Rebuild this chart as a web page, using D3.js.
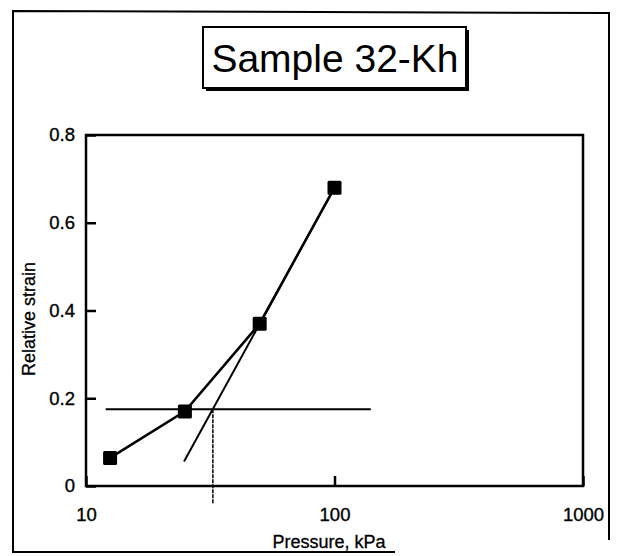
<!DOCTYPE html>
<html>
<head>
<meta charset="utf-8">
<script src="https://cdn.jsdelivr.net/npm/d3@7"></script>
<style>
  body { margin: 0; background: #fff; }
  text { font-family: "Liberation Sans", Arial, sans-serif; fill: #000; }
  .axis path, .axis line { stroke: #000; stroke-width: 2.5; }
  .axis text { font-size: 18.5px; stroke: #000; stroke-width: 0.35; }
</style>
</head>
<body>
<svg></svg>
<script>
// measured points
var pressure = [12.5, 25, 50, 100];
var strain = [0.064, 0.17, 0.37, 0.68];

// construction lines
var tangentP = [24.8, 100];
var tangentS = [0.056, 0.68];
var levelP = [12, 140];
var levelS = [0.175, 0.175];
var markP = [32.4, 32.4];
var markS = [0.175, -0.04];

var xTicks = [10, 100, 1000];
var yTicks = [0, 0.2, 0.4, 0.6, 0.8];

var svgWidth = 618, svgHeight = 556;
var margin = { top: 135, right: 35, bottom: 70, left: 86 };
var width = svgWidth - margin.left - margin.right;
var height = svgHeight - margin.top - margin.bottom;

var svg = d3.select("svg")
  .attr("width", svgWidth)
  .attr("height", svgHeight);

// outer frame
svg.append("path")
  .attr("d", "M395,552 L13,552 L13,11 L609,13 L609,540")
  .attr("fill", "none")
  .attr("stroke", "#000")
  .attr("stroke-width", 2);

// title box with shadow
svg.append("rect")
  .attr("x", 206).attr("y", 30).attr("width", 263).attr("height", 61)
  .attr("fill", "#000");
svg.append("rect")
  .attr("x", 203).attr("y", 27).attr("width", 263).attr("height", 61)
  .attr("fill", "#fff").attr("stroke", "#000").attr("stroke-width", 2);
svg.append("text")
  .attr("x", 335).attr("y", 72)
  .attr("text-anchor", "middle")
  .style("font-size", "39px")
  .text("Sample 32-Kh");

var chart = svg.append("g")
  .attr("transform", `translate(${margin.left}, ${margin.top})`);

var x = d3.scaleLog().domain([10, 1000]).range([0, width]);
var y = d3.scaleLinear().domain([0, 0.8]).range([height, 0]);

// axes, ticks pointing inward
chart.append("g")
  .attr("class", "axis")
  .attr("transform", "translate(0," + height + ")")
  .call(d3.axisBottom(x).tickValues(xTicks).tickSize(-10).tickPadding(22)
    .tickFormat(d3.format("d")));

chart.append("g")
  .attr("class", "axis")
  .call(d3.axisLeft(y).tickValues(yTicks).tickSize(-10).tickPadding(11)
    .tickFormat(function(d) { return d === 0 ? "0" : d3.format(".1f")(d); }));

chart.selectAll(".axis .domain").remove();

chart.append("rect")
  .attr("width", width).attr("height", height)
  .attr("fill", "none").attr("stroke", "#000").attr("stroke-width", 2.5);

var line = d3.line()
  .x(function(d) { return x(d[0]); })
  .y(function(d) { return y(d[1]); });

// horizontal level
chart.append("path")
  .datum(d3.zip(levelP, levelS))
  .attr("d", line)
  .attr("fill", "none").attr("stroke", "#000").attr("stroke-width", 2);

// vertical marker
chart.append("path")
  .datum(d3.zip(markP, markS))
  .attr("d", line)
  .attr("fill", "none").attr("stroke", "#000").attr("stroke-width", 1.5)
  .attr("stroke-dasharray", "4,1");

// tangent
chart.append("path")
  .datum(d3.zip(tangentP, tangentS))
  .attr("d", line)
  .attr("fill", "none").attr("stroke", "#000").attr("stroke-width", 2);

// data line
var pts = d3.zip(pressure, strain);
chart.append("path")
  .datum(pts)
  .attr("d", line)
  .attr("fill", "none").attr("stroke", "#000").attr("stroke-width", 2.5);

chart.selectAll(".marker")
  .data(pts)
  .enter()
  .append("rect")
  .attr("class", "marker")
  .attr("x", function(d) { return x(d[0]) - 7; })
  .attr("y", function(d) { return y(d[1]) - 7; })
  .attr("width", 14).attr("height", 14)
  .attr("rx", 1.5)
  .attr("fill", "#000");

// labels
svg.append("text")
  .attr("x", 329).attr("y", 548)
  .attr("text-anchor", "middle")
  .style("font-size", "18px")
  .style("stroke", "#000").style("stroke-width", 0.3)
  .text("Pressure, kPa");

svg.append("text")
  .attr("transform", "translate(35,319) rotate(-90)")
  .attr("text-anchor", "middle")
  .style("font-size", "18px")
  .style("stroke", "#000").style("stroke-width", 0.3)
  .text("Relative strain");
</script>
</body>
</html>
